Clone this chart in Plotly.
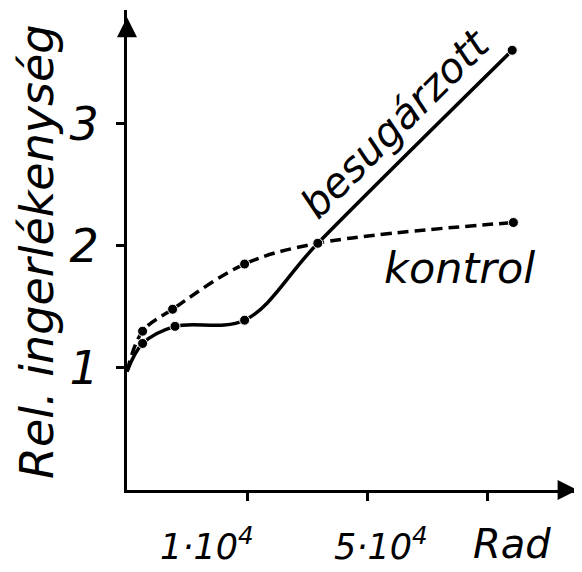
import plotly.graph_objects as go

# Adat (a rajzról leolvasva, tengely-egységekben)
x_besugarzott = [0, 0.13, 0.40, 0.98, 1.59, 3.21]
y_besugarzott = [0.97, 1.20, 1.34, 1.39, 2.02, 3.60]
x_kontrol = [0, 0.13, 0.38, 0.98, 1.59, 3.22]
y_kontrol = [0.97, 1.30, 1.48, 1.85, 2.02, 2.19]
y_ticks = [1, 2, 3]
x_ticks = [1, 2, 3]
x_labels = ["1·10<sup>4</sup>", "5·10<sup>4</sup>", "Rad"]
x_label_pos = [0.67, 2.12, 3.21]

X_MAX, Y_MAX = 3.775, 3.93

# a html body 8px margója miatt eltolva
OFF = 8
W, H = 582 - OFF, 572 - OFF
L, R, T, B = 127 - OFF, 2, 10 - OFF, 82
FONT = "DejaVu Sans"


def px(xp, yp):
    """oldal-pixel -> paper koordináta"""
    return (xp - OFF - L) / (W - L - R), (H - B - (yp - OFF)) / (H - T - B)


def msize(xs):
    return [0] + [10] * (len(xs) - 1)


fig = go.Figure()
fig.add_trace(go.Scatter(
    x=x_kontrol, y=y_kontrol, mode="lines+markers",
    line=dict(color="black", width=3.5, dash="11px,6px", shape="spline", smoothing=1),
    marker=dict(color="black", size=msize(x_kontrol), opacity=1), showlegend=False))
fig.add_trace(go.Scatter(
    x=x_besugarzott, y=y_besugarzott, mode="lines+markers",
    line=dict(color="black", width=3.5, shape="spline", smoothing=1),
    marker=dict(color="black", size=msize(x_besugarzott), opacity=1), showlegend=False))

# nyílhegyek a tengelyek végén
fig.add_trace(go.Scatter(x=[0], y=[Y_MAX - 0.06], mode="markers", cliponaxis=False,
                         marker=dict(symbol="arrow-up", size=20, color="black"),
                         showlegend=False, hoverinfo="skip"))
fig.add_trace(go.Scatter(x=[X_MAX - 0.02], y=[0], mode="markers", cliponaxis=False,
                         marker=dict(symbol="arrow-right", size=20, color="black"),
                         showlegend=False, hoverinfo="skip"))

fig.update_xaxes(range=[0, X_MAX], showgrid=False, zeroline=False,
                 showline=True, linecolor="black", linewidth=3,
                 tickvals=x_ticks, ticks="outside", ticklen=8, tickwidth=2.5,
                 tickcolor="black", showticklabels=False)
fig.update_yaxes(range=[0, Y_MAX], showgrid=False, zeroline=False,
                 showline=True, linecolor="black", linewidth=3,
                 tickvals=y_ticks, ticks="outside", ticklen=8, tickwidth=2.5,
                 tickcolor="black", ticklabelstandoff=8,
                 tickfont=dict(family=FONT, size=46, color="black", style="italic"))

ann = []
for xl, txt in zip(x_label_pos, x_labels):
    size = 40 if txt == "Rad" else 35
    ann.append(dict(xref="x", yref="paper", x=xl, y=px(0, 544)[1], text=txt,
                    xanchor="center", yanchor="middle",
                    showarrow=False, font=dict(family=FONT, size=size, style="italic")))

ax_, ay_ = px(37, 252)
ann.append(dict(xref="paper", yref="paper", x=ax_, y=ay_, text="Rel. ingerlékenység",
                textangle=-90, showarrow=False, xanchor="center", yanchor="middle",
                font=dict(family=FONT, size=46, style="italic")))
bx, by = px(395, 124)
ann.append(dict(xref="paper", yref="paper", x=bx, y=by, text="besugárzott",
                textangle=-45, showarrow=False, xanchor="center", yanchor="middle",
                font=dict(family=FONT, size=41, style="italic")))
kx, ky = px(459, 268)
ann.append(dict(xref="paper", yref="paper", x=kx, y=ky, text="kontrol",
                showarrow=False, xanchor="center", yanchor="middle",
                font=dict(family=FONT, size=43, style="italic")))

fig.update_layout(width=W, height=H,
                  margin=dict(l=L, r=R, t=T, b=B, autoexpand=False),
                  plot_bgcolor="white", paper_bgcolor="white",
                  font=dict(family=FONT, color="black"), annotations=ann)

fig.write_html("out.html")
